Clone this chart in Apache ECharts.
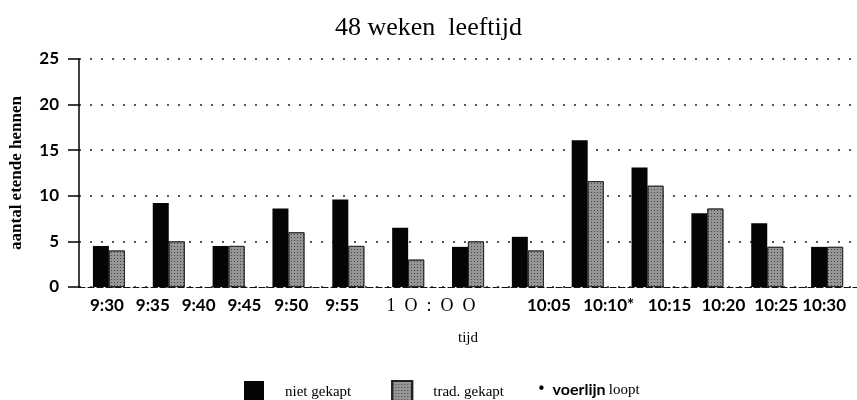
<!DOCTYPE html>
<html>
<head>
<meta charset="utf-8">
<script src="https://cdn.jsdelivr.net/npm/echarts@6/dist/echarts.min.js"></script>
<style>
    html, body { margin: 0; padding: 0; background: #fff; }
    #chart { width: 857px; height: 400px; }
</style>
</head>
<body>
<div id="chart"></div>
<script>
// tijdstippen (x-as)
const tijdLabels = ["9:30", "9:35", "9:40", "9:45", "9:50", "9:55", "1  O  :  O  O", "10:05", "10:10*", "10:15", "10:20", "10:25", "10:30"];
// aantal etende hennen per groep
const nietGekapt = [4.5, 9.2, 4.5, 8.6, 9.6, 6.5, 4.4, 5.5, 16.1, 13.1, 8.1, 7.0, 4.4];
const tradGekapt = [4.0, 5.0, 4.5, 6.0, 4.5, 3.0, 5.0, 4.0, 11.6, 11.1, 8.6, 4.4, 4.4];
const yTicks = [0, 5, 10, 15, 20, 25];

const serieNamen = ["niet gekapt", "trad. gekapt"];

// in het origineel staan de labels niet precies onder de staven
const labelShift = [-2, -16, -30, -44, -57, -66, -37, 21, 21, 22, 16, 9, -3];

const richLabels = {};
labelShift.forEach((s, i) => {
    richLabels["l" + i] = {
        fontFamily: i === 6 ? "Liberation Serif" : "Lato",
        fontWeight: i === 6 ? "normal" : "bold",
        fontSize: i === 6 ? 18 : 17,
        color: "#000",
        padding: s >= 0 ? [0, 0, 0, 2 * s] : [0, -2 * s, 0, 0],
    };
});

const chart = echarts.init(document.getElementById("chart"));

const option = {
    animation: false,
    title: {
        text: "48 weken  leeftijd",
        left: "center",
        top: 10,
        textStyle: {
            fontFamily: "Liberation Serif",
            fontWeight: "normal",
            fontSize: 26,
            color: "#000",
        },
    },
    grid: {
        left: 74,
        right: -3,
        top: 59,
        bottom: 113,
    },
    legend: {
        data: serieNamen,
        left: 239,
        top: 375,
        icon: "rect",
        itemWidth: 20,
        itemHeight: 23,
        itemGap: 40,
        textStyle: {
            fontFamily: "Liberation Serif",
            fontSize: 15,
            color: "#000",
            padding: [0, 0, 0, 16],
        },
    },
    graphic: [
        {
            type: "text",
            left: 537,
            top: 382,
            style: {
                text: "{b|•}  {v|voerlijn} {l|loopt}",
                rich: {
                    b: { fontSize: 15, fill: "#000", fontFamily: "DejaVu Sans" },
                    v: { fontSize: 16, fontWeight: "bold", fontFamily: "Lato", fill: "#000" },
                    l: { fontSize: 15, fontFamily: "Liberation Serif", fill: "#000" },
                },
            },
        },
    ],
    xAxis: {
        type: "category",
        data: tijdLabels,
        name: "tijd",
        nameLocation: "middle",
        nameGap: 44,
        nameTextStyle: {
            fontFamily: "Liberation Serif",
            fontSize: 15,
            color: "#000",
        },
        axisTick: { show: false },
        axisLine: {
            lineStyle: { color: "#111", width: 1.2, type: [6, 3] },
        },
        axisLabel: {
            interval: 0,
            margin: 10,
            formatter: (value, idx) => `{l${idx}|${value}}`,
            rich: richLabels,
        },
    },
    yAxis: {
        type: "value",
        min: yTicks[0],
        max: yTicks[yTicks.length - 1],
        interval: 5,
        name: "aantal etende hennen",
        nameLocation: "middle",
        nameGap: 54,
        nameTextStyle: {
            fontFamily: "Liberation Serif",
            fontWeight: "bold",
            fontSize: 17,
            color: "#000",
        },
        axisLine: {
            show: true,
            lineStyle: { color: "#000", width: 1.5 },
        },
        axisTick: {
            show: true,
            length: 11,
            lineStyle: { color: "#000", width: 1.5 },
        },
        axisLabel: {
            margin: 20,
            fontFamily: "Lato",
            fontWeight: "bold",
            fontSize: 17,
            color: "#000",
        },
        splitLine: {
            lineStyle: { color: "#222", width: 1.6, type: [2, 9] },
        },
    },
    series: [
        {
            name: serieNamen[0],
            type: "bar",
            data: nietGekapt,
            barWidth: 16,
            barGap: "0%",
            itemStyle: { color: "#050505" },
        },
        {
            name: serieNamen[1],
            type: "bar",
            data: tradGekapt,
            barWidth: 16,
            itemStyle: {
                color: "#969696",
                borderColor: "#222",
                borderWidth: 0.8,
                decal: {
                    symbol: "rect",
                    symbolSize: 1,
                    color: "rgba(20,20,20,0.6)",
                    dashArrayX: [1, 2],
                    dashArrayY: [1, 2],
                    rotation: 0,
                },
            },
        },
    ],
};

chart.setOption(option);
</script>
</body>
</html>
